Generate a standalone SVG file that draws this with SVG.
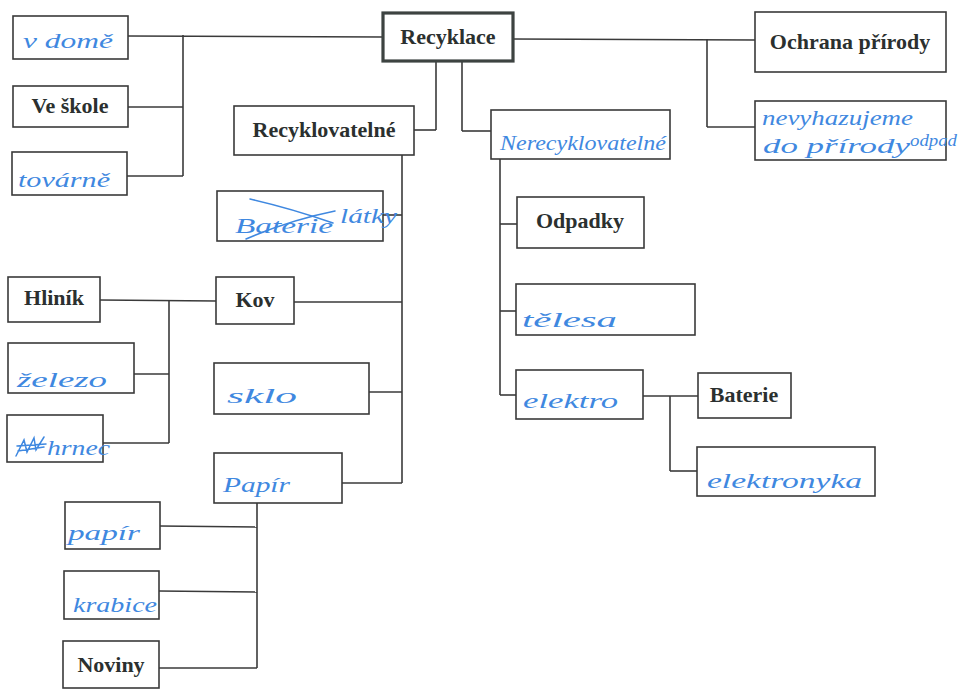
<svg xmlns="http://www.w3.org/2000/svg" width="968" height="697" viewBox="0 0 968 697">
  <style>
    .box { fill: #ffffff; stroke: #3a3a3a; stroke-width: 1.6; }
    .main { fill: #ffffff; stroke: #3d4341; stroke-width: 3.2; }
    .lbl { font-family: "Liberation Serif", "Times New Roman", serif; font-weight: bold; font-size: 22px; fill: #2b302f; text-anchor: middle; }
    .hw { font-family: "Liberation Serif", "Times New Roman", serif; font-style: italic; font-size: 22px; fill: #3f88e0; }
    .hws { font-family: "Liberation Serif", "Times New Roman", serif; font-style: italic; font-size: 16px; fill: #3f88e0; }
    .mark { fill: none; stroke: #3f88e0; stroke-width: 1.5; stroke-linecap: round; }
    .conn line { stroke: #3a3a3a; stroke-width: 1.6; }
  </style>
  <rect width="968" height="697" fill="#ffffff"/>

  <!-- connectors -->
  <g class="conn" id="connectors">
    <!-- Recyklace to left column -->
    <line x1="128" y1="36" x2="383" y2="37"/>
    <line x1="183" y1="35" x2="183" y2="176"/>
    <line x1="128" y1="107" x2="183" y2="107"/>
    <line x1="127" y1="176" x2="183" y2="176"/>
    <!-- Recyklace to right column -->
    <line x1="513" y1="39" x2="755" y2="40"/>
    <line x1="707" y1="39" x2="707" y2="127"/>
    <line x1="707" y1="127" x2="755" y2="127"/>
    <!-- Recyklace down to the two branches -->
    <line x1="436" y1="61" x2="436" y2="130"/>
    <line x1="414" y1="130" x2="436" y2="130"/>
    <line x1="462" y1="61" x2="462" y2="131"/>
    <line x1="462" y1="131" x2="491" y2="131"/>
    <!-- Recyklovatelné spine -->
    <line x1="402" y1="155" x2="402" y2="483"/>
    <line x1="383" y1="215" x2="402" y2="215"/>
    <line x1="294" y1="302" x2="402" y2="302"/>
    <line x1="369" y1="392" x2="402" y2="392"/>
    <line x1="342" y1="483" x2="402" y2="483"/>
    <!-- Kov subtree -->
    <line x1="100" y1="300" x2="216" y2="301"/>
    <line x1="169" y1="300" x2="169" y2="443"/>
    <line x1="134" y1="374" x2="169" y2="374"/>
    <line x1="103" y1="443" x2="169" y2="443"/>
    <!-- Papír subtree -->
    <line x1="257" y1="503" x2="257" y2="668"/>
    <line x1="160" y1="526" x2="257" y2="527"/>
    <line x1="159" y1="591" x2="257" y2="592"/>
    <line x1="159" y1="668" x2="257" y2="668"/>
    <!-- Nerecyklovatelné spine -->
    <line x1="500" y1="159" x2="500" y2="395"/>
    <line x1="500" y1="224" x2="517" y2="224"/>
    <line x1="500" y1="311" x2="516" y2="311"/>
    <line x1="500" y1="395" x2="516" y2="395"/>
    <!-- elektro subtree -->
    <line x1="643" y1="396" x2="698" y2="396"/>
    <line x1="670" y1="396" x2="670" y2="471"/>
    <line x1="670" y1="471" x2="697" y2="471"/>
  </g>

  <!-- root -->
  <g id="recyklace">
    <rect class="main" x="383" y="13" width="130" height="48"/>
    <text class="lbl" x="448" y="44" font-size="23">Recyklace</text>
  </g>

  <!-- left column -->
  <g id="v-dome">
    <rect class="box" x="13" y="16" width="115" height="43"/>
    <text class="hw" x="23" y="48" textLength="90" lengthAdjust="spacingAndGlyphs">v domě</text>
  </g>
  <g id="ve-skole">
    <rect class="box" x="13" y="86" width="115" height="41"/>
    <text class="lbl" x="70" y="113">Ve škole</text>
  </g>
  <g id="tovarne">
    <rect class="box" x="12" y="152" width="115" height="43"/>
    <text class="hw" x="18" y="187" textLength="92" lengthAdjust="spacingAndGlyphs">továrně</text>
  </g>

  <!-- right column -->
  <g id="ochrana-prirody">
    <rect class="box" x="755" y="12" width="191" height="60"/>
    <text class="lbl" x="850" y="49">Ochrana přírody</text>
  </g>
  <g id="nevyhazujeme">
    <rect class="box" x="755" y="101" width="191" height="59"/>
    <text class="hw" x="762" y="125" textLength="151" lengthAdjust="spacingAndGlyphs">nevyhazujeme</text>
    <text class="hw" x="763" y="153" textLength="147" lengthAdjust="spacingAndGlyphs">do přírody</text>
    <text class="hws" x="910" y="146" textLength="47" lengthAdjust="spacingAndGlyphs">odpad</text>
  </g>

  <!-- recyclable branch -->
  <g id="recyklovatelne">
    <rect class="box" x="234" y="106" width="180" height="49"/>
    <text class="lbl" x="324" y="137">Recyklovatelné</text>
  </g>
  <g id="latky">
    <rect class="box" x="217" y="191" width="166" height="50"/>
    <text class="hw" x="235" y="233" font-size="24" textLength="98" lengthAdjust="spacingAndGlyphs">Baterie</text>
    <path class="mark" d="M250 199 Q290 208 333 223"/>
    <path class="mark" d="M246 239 Q290 220 335 211"/>
    <text class="hw" x="340" y="223" textLength="57" lengthAdjust="spacingAndGlyphs">látky</text>
  </g>
  <g id="kov">
    <rect class="box" x="216" y="277" width="78" height="47"/>
    <text class="lbl" x="255" y="307">Kov</text>
  </g>
  <g id="hlinik">
    <rect class="box" x="8" y="277" width="92" height="45"/>
    <text class="lbl" x="54" y="305">Hliník</text>
  </g>
  <g id="zelezo">
    <rect class="box" x="8" y="343" width="126" height="50"/>
    <text class="hw" x="17" y="387" textLength="90" lengthAdjust="spacingAndGlyphs">železo</text>
  </g>
  <g id="hrnec">
    <rect class="box" x="7" y="415" width="96" height="47"/>
    <path class="mark" d="M16 456 L24 440 L27 452 L34 438 L36 450 L44 437 M17 446 L46 444 M18 451 L44 447"/>
    <text class="hw" x="47" y="455" textLength="63" lengthAdjust="spacingAndGlyphs">hrnec</text>
  </g>
  <g id="sklo">
    <rect class="box" x="214" y="363" width="155" height="51"/>
    <text class="hw" x="227" y="403" textLength="70" lengthAdjust="spacingAndGlyphs">sklo</text>
  </g>
  <g id="papir-group">
    <rect class="box" x="214" y="453" width="128" height="50"/>
    <text class="hw" x="223" y="492" textLength="67" lengthAdjust="spacingAndGlyphs">Papír</text>
  </g>
  <g id="papir">
    <rect class="box" x="65" y="502" width="95" height="47"/>
    <text class="hw" x="68" y="540" textLength="72" lengthAdjust="spacingAndGlyphs">papír</text>
  </g>
  <g id="krabice">
    <rect class="box" x="64" y="571" width="95" height="48"/>
    <text class="hw" x="73" y="612" textLength="84" lengthAdjust="spacingAndGlyphs">krabice</text>
  </g>
  <g id="noviny">
    <rect class="box" x="63" y="641" width="96" height="47"/>
    <text class="lbl" x="111" y="672">Noviny</text>
  </g>

  <!-- non-recyclable branch -->
  <g id="nerecyklovatelne">
    <rect class="box" x="491" y="110" width="179" height="49"/>
    <text class="hw" x="500" y="150" textLength="166" lengthAdjust="spacingAndGlyphs">Nerecyklovatelné</text>
  </g>
  <g id="odpadky">
    <rect class="box" x="517" y="197" width="127" height="51"/>
    <text class="lbl" x="580" y="228">Odpadky</text>
  </g>
  <g id="telesa">
    <rect class="box" x="516" y="284" width="179" height="51"/>
    <text class="hw" x="522" y="327" textLength="95" lengthAdjust="spacingAndGlyphs">tělesa</text>
  </g>
  <g id="elektro">
    <rect class="box" x="516" y="370" width="127" height="49"/>
    <text class="hw" x="523" y="408" textLength="95" lengthAdjust="spacingAndGlyphs">elektro</text>
  </g>
  <g id="baterie">
    <rect class="box" x="698" y="373" width="93" height="45"/>
    <text class="lbl" x="744" y="402">Baterie</text>
  </g>
  <g id="elektronyka">
    <rect class="box" x="697" y="447" width="178" height="49"/>
    <text class="hw" x="707" y="488" textLength="155" lengthAdjust="spacingAndGlyphs">elektronyka</text>
  </g>
</svg>
